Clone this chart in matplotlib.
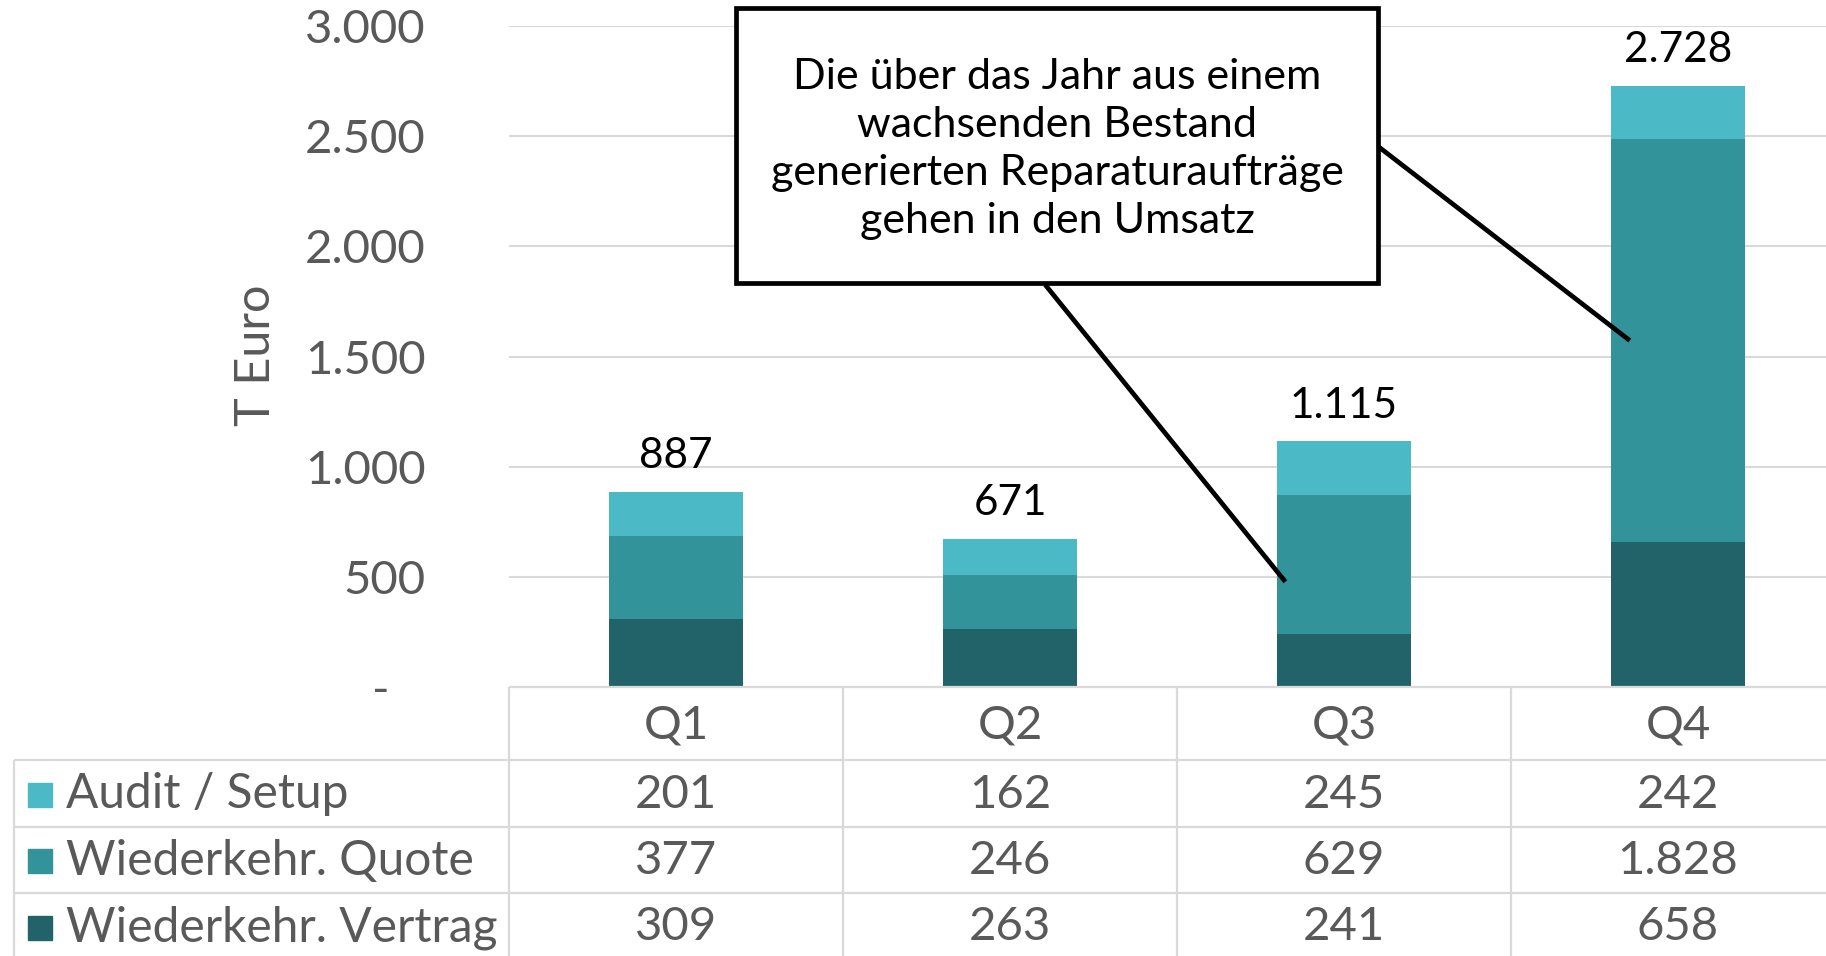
import matplotlib
matplotlib.use("Agg")
import matplotlib.pyplot as plt
from matplotlib.patches import Rectangle

plt.rcParams["font.family"] = ["Lato", "DejaVu Sans"]

quarters = ["Q1", "Q2", "Q3", "Q4"]
series_names = ["Audit / Setup", "Wiederkehr. Quote", "Wiederkehr. Vertrag"]
vertrag = [309, 263, 241, 658]
quote = [377, 246, 629, 1828]
audit = [201, 162, 245, 242]
callout_text = ("Die über das Jahr aus einem\nwachsenden Bestand\n"
                "generierten Reparaturaufträge\ngehen in den Umsatz")

c_audit = "#4bbac6"
c_quote = "#33939b"
c_vertrag = "#22636a"
grey = "#595959"
grid_c = "#d9d9d9"

def fmt(v):
    return f"{v:,}".replace(",", ".")

W, H = 1826, 956
fig = plt.figure(figsize=(W / 100, H / 100), dpi=100)

# plot area in pixels: x 509..1845, y 26..687
x0, x1, ytop, ybot = 509, 1845, 26, 687
ax = fig.add_axes([x0 / W, 1 - ybot / H, (x1 - x0) / W, (ybot - ytop) / H])
ax.set_facecolor("none")

x = range(len(quarters))
bw = 0.40
ax.bar(x, vertrag, bw, color=c_vertrag, zorder=2)
ax.bar(x, quote, bw, bottom=vertrag, color=c_quote, zorder=2)
bottom3 = [a + b for a, b in zip(vertrag, quote)]
ax.bar(x, audit, bw, bottom=bottom3, color=c_audit, zorder=2)

totals = [a + b + c for a, b, c in zip(vertrag, quote, audit)]
for i, t in enumerate(totals):
    ax.annotate(fmt(t), (i, t), xytext=(0, 12), textcoords="offset points",
                ha="center", va="bottom", fontsize=30.5, color="black")

ax.set_xlim(-0.5, 3.5)
ax.set_ylim(0, 3000)
ax.set_yticks(range(0, 3001, 500))
ax.set_yticklabels(["-   "] + [fmt(v) for v in range(500, 3001, 500)])
ax.tick_params(axis="y", length=0, pad=60, labelsize=34, labelcolor=grey)
ax.set_xticks([])
ax.yaxis.grid(True, color=grid_c, lw=1.5, zorder=0)
for s in ax.spines.values():
    s.set_visible(False)

# callout leader lines
ax.plot([1.11, 1.82], [1817, 486], color="black", lw=3.4, clip_on=False, zorder=3)
ax.plot([2.10, 2.85], [2456, 1579], color="black", lw=3.4, clip_on=False, zorder=3)

fig.text(256 / W, 1 - 355 / H, "T Euro", rotation=90, ha="center", va="center",
         fontsize=35, color=grey)

# overlay in pixel coordinates: data table + callout box
ov = fig.add_axes([0, 0, 1, 1], zorder=5)
ov.set_xlim(0, W)
ov.set_ylim(H, 0)
ov.axis("off")
ov.patch.set_alpha(0)

colw = (x1 - x0) / len(quarters)
row_edges = [687, 760, 827, 893, 960]
lk = dict(color=grid_c, lw=1.6, solid_capstyle="butt")
ov.plot([x0, x1], [row_edges[0]] * 2, **lk)
for y in row_edges[1:4]:
    ov.plot([14, x1], [y, y], **lk)
ov.plot([14, 14], [row_edges[1], H], **lk)
for j in range(len(quarters)):
    ov.plot([x0 + j * colw] * 2, [row_edges[0], H], **lk)

for j, q in enumerate(quarters):
    ov.text(x0 + (j + 0.5) * colw, (row_edges[0] + row_edges[1]) / 2 + 2, q,
            ha="center", va="center", fontsize=34, color=grey)

rows = [(series_names[0], audit, c_audit),
        (series_names[1], quote, c_quote),
        (series_names[2], vertrag, c_vertrag)]
for r, (name, vals, col) in enumerate(rows):
    yc = (row_edges[r + 1] + row_edges[r + 2]) / 2 + 1
    ov.add_patch(Rectangle((28, yc - 12), 24, 24, color=col))
    ov.text(66, yc, name, ha="left", va="center", fontsize=34.5, color=grey)
    for j, v in enumerate(vals):
        ov.text(x0 + (j + 0.5) * colw, yc, fmt(v), ha="center", va="center",
                fontsize=34, color=grey)

ov.add_patch(Rectangle((736, 8), 642, 275, facecolor="white", edgecolor="black",
                       lw=3.4))
ov.text(1057, 149, callout_text, ha="center", va="center", fontsize=31,
        color="black", linespacing=1.32)

fig.savefig("out.png", dpi=100)
